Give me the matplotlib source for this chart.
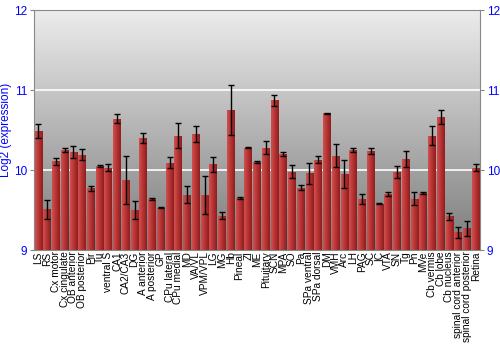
import matplotlib.pyplot as plt
import numpy as np
from matplotlib.colors import LinearSegmentedColormap

regions = ['LS', 'RS', 'Cx motor', 'Cx cingulate', 'OB anterior', 'OB posterior',
           'Pir', 'Tu', 'ventral S', 'CA1', 'CA2/CA3', 'DG', 'A anterior',
           'A posterior', 'GP', 'CPu lateral', 'CPu medial', 'MD', 'VA/VL',
           'VPM/VPL', 'LG', 'MG', 'Hb', 'Pineal', 'ZI', 'ME', 'Pituitary', 'SCN',
           'MPA', 'SO', 'Pa', 'SPa ventral', 'SPa dorsal', 'DM', 'VMH', 'Arc',
           'LH', 'PAG', 'SC', 'IC', 'VTA', 'SN', 'Tg', 'Pn', 'MVe', 'Cb vermis',
           'Cb lobe', 'Cb nucleus', 'spinal cord anterior', 'spinal cord posterior',
           'Retina']
expression = [10.49, 9.51, 10.11, 10.25, 10.22, 10.19, 9.77, 10.05, 10.03, 10.64,
              9.87, 9.50, 10.40, 9.64, 9.53, 10.09, 10.43, 9.69, 10.45, 9.69,
              10.07, 9.43, 10.75, 9.65, 10.28, 10.10, 10.28, 10.87, 10.20, 9.98,
              9.78, 9.96, 10.13, 10.71, 10.18, 9.95, 10.25, 9.64, 10.24, 9.58,
              9.70, 9.97, 10.14, 9.64, 9.71, 10.43, 10.66, 9.42, 9.22, 9.27, 10.03]
errors = [0.085, 0.12, 0.045, 0.02, 0.075, 0.067, 0.035, 0.01, 0.04, 0.056,
          0.30, 0.11, 0.067, 0.01, 0.005, 0.07, 0.16, 0.106, 0.10, 0.24,
          0.094, 0.04, 0.31, 0.01, 0.01, 0.015, 0.085, 0.065, 0.02, 0.08,
          0.03, 0.13, 0.045, 0.005, 0.14, 0.18, 0.025, 0.06, 0.04, 0.005,
          0.03, 0.075, 0.10, 0.08, 0.01, 0.12, 0.09, 0.04, 0.07, 0.09, 0.04]
yticks = [9, 10, 11, 12]

fig = plt.figure(figsize=(5, 3.5), dpi=100)
ax = fig.add_axes([0.068, 0.2857, 0.892, 0.6857])

n = len(regions)
x = np.arange(n)
ax.set_xlim(-0.5, n - 0.5)
ax.set_ylim(9, 12)

# grey background gradient
bg = LinearSegmentedColormap.from_list('bg', ['#7c7c7c', '#ececec'])
ax.imshow(np.linspace(0, 1, 256).reshape(-1, 1), cmap=bg, aspect='auto',
          extent=[-0.5, n - 0.5, 9, 12], origin='lower', zorder=0)
for t in [10, 11]:
    ax.axhline(t, color='white', lw=1.2, zorder=1)

# bars with horizontal shading
barcm = LinearSegmentedColormap.from_list('bar', ['#cf5050', '#b83232', '#8c1e1e'])
grad = np.linspace(0, 1, 64).reshape(1, -1)
bars = ax.bar(x, np.array(expression) - 9, bottom=9, width=0.88,
              color='#b83232', edgecolor='none', zorder=2)
for b in bars:
    x0, y0 = b.get_x(), b.get_y()
    im = ax.imshow(grad, cmap=barcm, aspect='auto', zorder=2.5,
                   extent=[x0, x0 + b.get_width(), y0, y0 + b.get_height()])
    im.set_clip_path(b)

ax.errorbar(x, expression, yerr=errors, fmt='none', ecolor='black',
            elinewidth=1, capsize=2, capthick=1, zorder=3)

ax.set_xticks(x)
ax.set_xticklabels(regions, rotation=90, fontsize=7.3, family='Liberation Sans')
ax.tick_params(axis='x', length=0, pad=1)

ax.set_yticks(yticks)
ax.tick_params(axis='y', colors='#888888', labelcolor='blue', labelsize=8.5,
               length=3, pad=2, left=True, right=True, labelleft=True, labelright=True)
for lab in ax.get_yticklabels():
    lab.set_family('Liberation Sans')
ax.set_ylabel('Log2 (expression)', color='blue', fontsize=8.5,
              family='Liberation Sans', labelpad=1)

for s in ax.spines.values():
    s.set_color('#888888')

fig.savefig('out.png', dpi=100)
